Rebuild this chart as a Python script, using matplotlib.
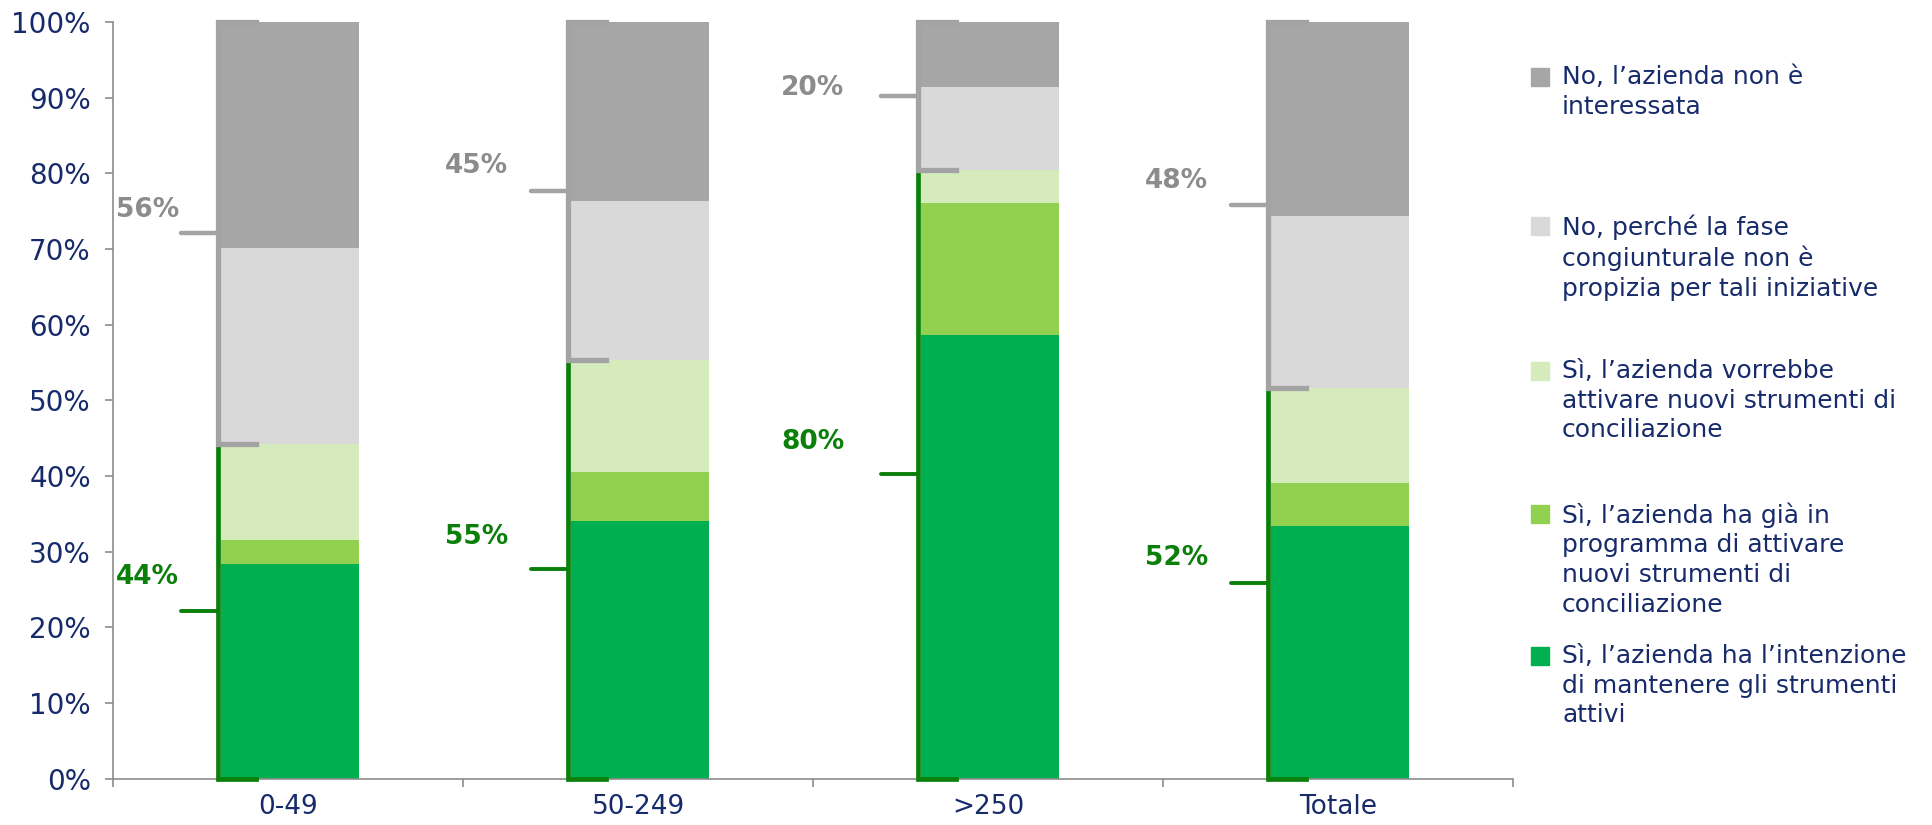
import numpy as np
import matplotlib.pyplot as plt
from matplotlib.patches import Rectangle

categories = ['0-49', '50-249', '>250', 'Totale']
# stacked shares (%), bottom to top
mantenere = [28.4, 34.1, 58.7, 33.4]
programma = [3.1, 6.4, 17.4, 5.7]
vorrebbe = [12.7, 14.9, 4.4, 12.6]
fase = [25.9, 21.0, 10.9, 22.7]
non_interessata = [29.9, 23.6, 8.6, 25.6]
si_labels = ['44%', '55%', '80%', '52%']
no_labels = ['56%', '45%', '20%', '48%']
series_names = [
    'Sì, l’azienda ha l’intenzione\ndi mantenere gli strumenti\nattivi',
    'Sì, l’azienda ha già in\nprogramma di attivare\nnuovi strumenti di\nconciliazione',
    'Sì, l’azienda vorrebbe\nattivare nuovi strumenti di\nconciliazione',
    'No, perché la fase\ncongiunturale non è\npropizia per tali iniziative',
    'No, l’azienda non è\ninteressata',
]
colors = ['#00B050', '#92D050', '#D5EBBB', '#D9D9D9', '#A6A6A6']
navy = '#172B6B'
gray_br = '#A3A3A3'
green_br = '#0A7F0A'

fig = plt.figure(figsize=(19.32, 8.25), dpi=100)
ax = fig.add_axes([0.0585, 0.0562, 0.7247, 0.9169])

x = np.arange(len(categories))
width = 0.395
series = [mantenere, programma, vorrebbe, fase, non_interessata]
bottom = np.zeros(len(categories))
for vals, c in zip(series, colors):
    ax.bar(x + 0.005, vals, width, bottom=bottom, color=c, zorder=2)
    bottom += np.array(vals)

si_tot = np.array(mantenere) + np.array(programma) + np.array(vorrebbe)
# label placement offsets (layout only)
dx = [-0.20, -0.26, -0.30, -0.26]
dy_si = [4.6, 4.2, 4.2, 3.3]
dy_no = [3.1, 3.3, 1.1, 3.1]
cap = 0.11
tick = 0.105
for i in range(len(categories)):
    xl = x[i] + 0.005 - width / 2 - 0.009
    s = si_tot[i]
    # green bracket
    ax.plot([xl + cap, xl, xl, xl + cap], [s, s, 0, 0], color=green_br, lw=3.4,
            solid_joinstyle='miter', zorder=3, clip_on=False)
    ax.plot([xl - tick, xl], [s / 2] * 2, color=green_br, lw=2.8,
            solid_capstyle='round', zorder=3)
    # gray bracket
    ax.plot([xl + cap, xl, xl, xl + cap], [100, 100, s, s], color=gray_br, lw=3.8,
            solid_joinstyle='miter', zorder=4, clip_on=False)
    ax.plot([xl - tick, xl], [(s + 100) / 2] * 2, color=gray_br, lw=3.2,
            solid_capstyle='round', zorder=4)
    ax.text(xl + dx[i], (s + 100) / 2 + dy_no[i], no_labels[i], color='#8C8C8C',
            fontsize=19, fontweight='bold', ha='center', va='center')
    ax.text(xl + dx[i], s / 2 + dy_si[i], si_labels[i], color=green_br,
            fontsize=19, fontweight='bold', ha='center', va='center')

ax.set_xlim(-0.5, 3.5)
ax.set_ylim(0, 100)
ax.set_yticks(np.arange(0, 101, 10))
ax.set_yticklabels([f'{v}%' for v in range(0, 101, 10)])
ax.set_xticks(x)
ax.set_xticklabels(categories)
ax.set_xticks(np.arange(-0.5, 4, 1), minor=True)
ax.tick_params(axis='x', which='major', length=0, pad=11, labelsize=19, labelcolor=navy)
ax.tick_params(axis='x', which='minor', length=6, width=1.2, color='#8C8C8C', direction='out')
ax.tick_params(axis='y', length=6, width=1.2, color='#8C8C8C', pad=10, labelsize=20,
               labelcolor=navy)
for side in ['top', 'right']:
    ax.spines[side].set_visible(False)
for side in ['left', 'bottom']:
    ax.spines[side].set_color('#8C8C8C')
    ax.spines[side].set_linewidth(1.2)

# legend, top entry first
W, H = 1932, 825
line_y = [77, 226, 371, 514, 656]
for name, c, yc in zip(series_names[::-1], colors[::-1], line_y):
    fig.add_artist(Rectangle((1531 / W, 1 - (yc + 9) / H), 18 / W, 18 / H,
                             transform=fig.transFigure, color=c))
    fig.text(1562 / W, 1 - (yc - 12) / H, name, fontsize=18, color=navy,
             va='top', ha='left', linespacing=1.3)

fig.savefig('out.png', dpi=100)
